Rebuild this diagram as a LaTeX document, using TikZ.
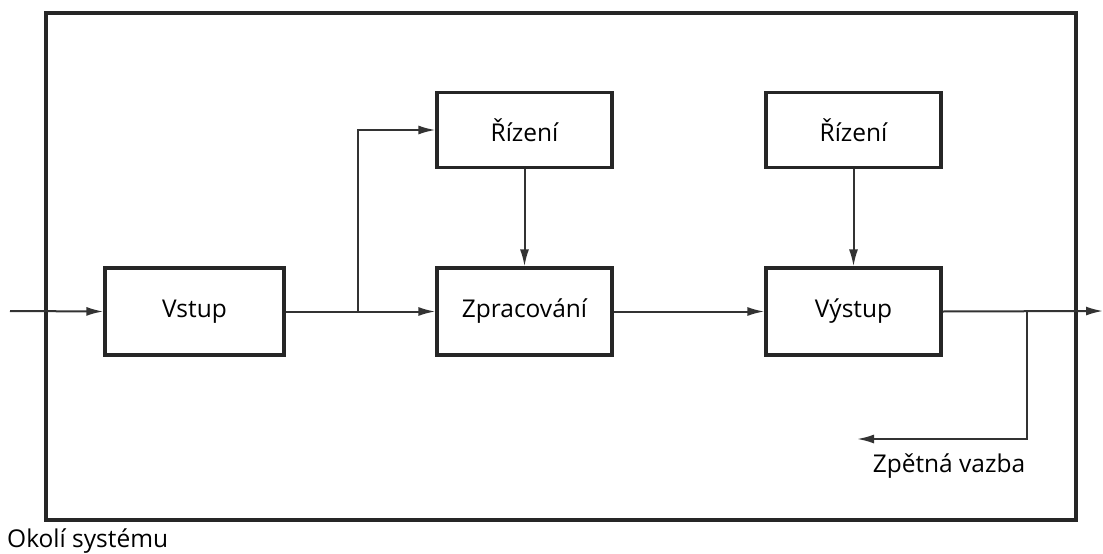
\documentclass[tikz,border=0pt]{standalone}
\usepackage{fontspec}
\setmainfont{Open Sans}
\usetikzlibrary{arrows.meta}
\begin{document}
\begin{tikzpicture}[x=1pt,y=-1pt,
  blk/.style={draw=black!85,line width=3.2pt,minimum width=175pt,minimum height=75pt,inner sep=0pt,font=\fontsize{24.5}{28}\selectfont},
  conn/.style={draw=black!80,line width=2pt,-{Latex[length=17pt,width=9pt]}},
  lbl/.style={font=\fontsize{24.5}{28}\selectfont,inner sep=0pt}]
\useasboundingbox (0,0) rectangle (1103,554);
\draw[draw=black!85,line width=3.2pt] (46,13) rectangle (1076,520);
\node[blk,minimum width=179pt,minimum height=87pt] (vstup) at (194.5,311.5) {Vstup};
\node[blk,minimum height=87pt] (zprac) at (524.5,311.5) {Zpracování};
\node[blk] (riz1) at (524.5,130) {Řízení};
\node[blk,minimum height=87pt] (vystup) at (853.5,311.5) {Výstup};
\node[blk] (riz2) at (853.5,130) {Řízení};
\coordinate (in) at (10,311);
\coordinate (out) at (1103,311);
\coordinate (split) at (358,311);
\coordinate (fb) at (1027,311);
\coordinate (fbend) at (857,439);
\node[lbl] (zv) at (949,466) {Zpětná vazba};
\node[lbl,anchor=west] (okoli) at (7,541) {Okolí systému};
\draw[conn] (in) -- (vstup.west);
\draw[conn] (vstup.east) -- (zprac.west);
\draw[conn] (split) |- (riz1.west);
\draw[conn] (riz1.south) -- (zprac.north);
\draw[conn] (riz2.south) -- (vystup.north);
\draw[conn] (zprac.east) -- (vystup.west);
\draw[conn] (vystup.east) -- (out);
\draw[conn] (fb) |- (fbend);
\end{tikzpicture}
\end{document}
